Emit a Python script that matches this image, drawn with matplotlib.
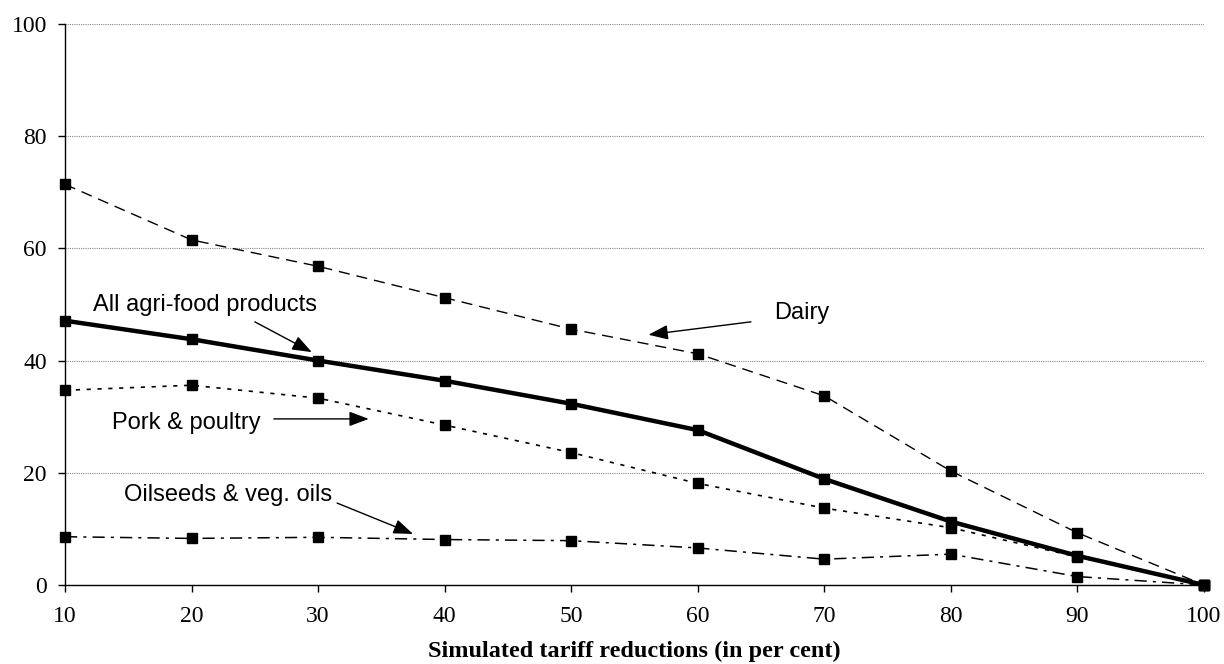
import matplotlib
matplotlib.use("Agg")
import matplotlib.pyplot as plt

# tariff reduction steps (per cent)
cuts = [10, 20, 30, 40, 50, 60, 70, 80, 90, 100]

dairy = [71.4, 61.5, 56.8, 51.2, 45.6, 41.2, 33.7, 20.3, 9.3, 0.0]
all_agri = [47.1, 43.8, 40.0, 36.4, 32.3, 27.6, 18.9, 11.3, 5.2, 0.0]
pork = [34.7, 35.6, 33.3, 28.5, 23.6, 18.1, 13.7, 10.2, 5.0, 0.0]
oilseeds = [8.6, 8.3, 8.5, 8.1, 7.9, 6.6, 4.6, 5.5, 1.5, 0.0]

serif = ["Liberation Serif", "DejaVu Serif"]
sans = ["Liberation Sans", "DejaVu Sans"]

fig = plt.figure(figsize=(12.24, 6.64), dpi=100)
ax = fig.add_axes([0.0531, 0.119, 0.9306, 0.845])

mk = dict(marker="s", markersize=7, color="black", markerfacecolor="black", clip_on=False)
ax.plot(cuts, dairy, linestyle=(0, (8, 5)), linewidth=1.0, **mk)
ax.plot(cuts, pork, linestyle=(0, (2.5, 4)), linewidth=1.2, **mk)
ax.plot(cuts, oilseeds, linestyle=(0, (8, 4, 2, 4)), linewidth=1.1, **mk)
ax.plot(cuts, all_agri, linestyle="-", linewidth=3.2, **mk)

ax.set_xlim(10, 100)
ax.set_ylim(0, 100)
ax.set_xticks(cuts)
ax.set_yticks([0, 20, 40, 60, 80, 100])
ax.yaxis.grid(True, color="#888888", linestyle=(0, (1, 1)), linewidth=0.8)
ax.set_axisbelow(True)
for s in ["top", "right"]:
    ax.spines[s].set_visible(False)
for s in ["left", "bottom"]:
    ax.spines[s].set_linewidth(1.0)
ax.tick_params(axis="both", direction="out", length=5, width=1.0, labelsize=17)
ax.tick_params(axis="x", pad=10)
ax.tick_params(axis="y", pad=8)
for lab in ax.get_xticklabels() + ax.get_yticklabels():
    lab.set_family(serif)
ax.set_xlabel("Simulated tariff reductions (in per cent)", fontsize=17.5,
              fontweight="bold", family=serif)
ax.xaxis.set_label_coords(0.5, -0.1)

arrow = dict(arrowstyle="-|>,head_length=1.2,head_width=0.45", color="black", lw=1.0,
             shrinkA=0, shrinkB=0)
ax.text(21.1, 49.9, "All agri-food products", ha="center", va="center",
        fontsize=17, family=sans)
ax.annotate("", xy=(29.5, 41.5), xytext=(25.0, 46.9), arrowprops=arrow)
ax.text(68.2, 48.5, "Dairy", ha="center", va="center", fontsize=17, family=sans)
ax.annotate("", xy=(56.1, 44.6), xytext=(64.2, 46.9), arrowprops=arrow)
ax.text(19.6, 28.9, "Pork & poultry", ha="center", va="center", fontsize=17, family=sans)
ax.annotate("", xy=(34.0, 29.6), xytext=(26.5, 29.6), arrowprops=arrow)
ax.text(22.9, 16.0, "Oilseeds & veg. oils", ha="center", va="center",
        fontsize=17, family=sans)
ax.annotate("", xy=(37.5, 9.1), xytext=(31.5, 14.6), arrowprops=arrow)

fig.savefig("out.png", dpi=100)
